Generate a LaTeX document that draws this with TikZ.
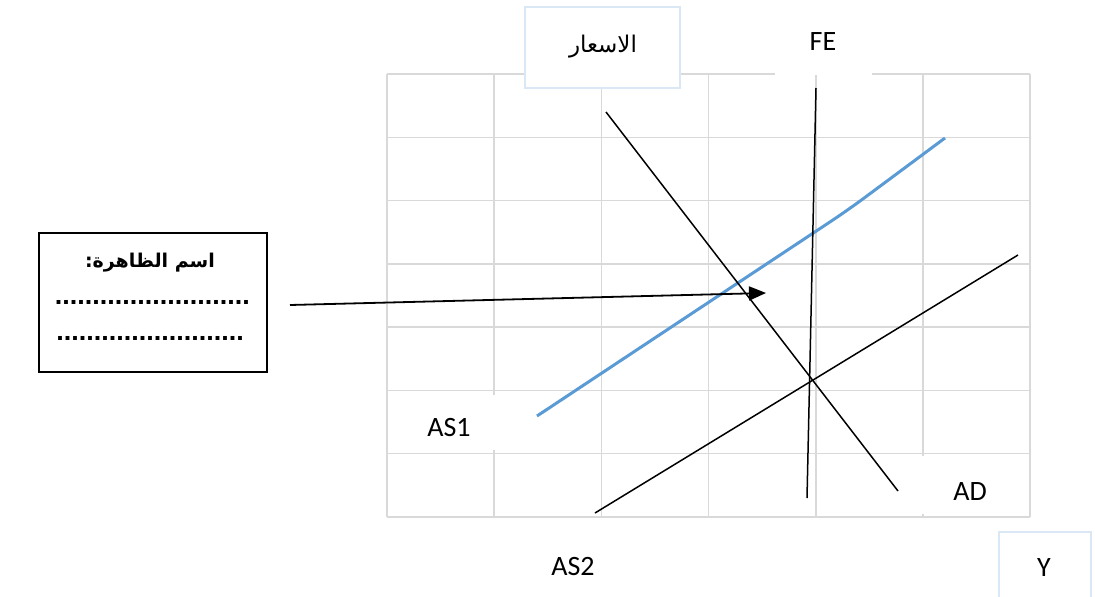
\documentclass[tikz,border=0pt]{standalone}
\usepackage{fontspec}
\setmainfont{Carlito}
\newfontfamily\arabicfont[Script=Arabic]{DejaVu Sans}
\newfontfamily\arialfont{Liberation Sans}
\TeXXeTstate=1
\usetikzlibrary{arrows.meta}
\definecolor{gridc}{RGB}{217,217,217}
\definecolor{asblue}{RGB}{91,155,213}
\definecolor{lblue}{RGB}{218,232,246}
\begin{document}
\begin{tikzpicture}[x=1pt,y=-1pt,
  gridline/.style={gridc,line width=1.5pt},
  curve/.style={black,line width=1.5pt},
  bluecurve/.style={asblue,line width=3pt},
  maskbox/.style={fill=white,draw=none,inner sep=0pt},
  bluebox/.style={fill=white,draw=lblue,line width=1.5pt,inner sep=0pt},
  lab/.style={font=\fontsize{28}{32}\selectfont},
  arlab/.style={font=\arabicfont\fontsize{23}{26}\selectfont},
  arrowline/.style={black,line width=1.8pt,-{Triangle[length=17pt,width=14pt]}},
  dots/.style={font=\arialfont\bfseries\fontsize{27}{30}\selectfont,inner sep=0pt}]
\useasboundingbox (0,0) rectangle (1095,597);
\fill[white] (0,0) rectangle (1095,597);
% grid
\foreach \x in {387,494.2,601.5,708.7,815.8,923,1030}
  \draw[gridline] (\x,74) -- (\x,517);
\foreach \y in {74,137.3,200.6,263.9,327.1,390.4,453.7,517}
  \draw[gridline] (387,\y) -- (1030,\y);
% label boxes
\node[bluebox,minimum width=155pt,minimum height=81pt] (prices) at (602.5,47.5) {};
\node[arlab] at (603,47) {\beginR الاسعار\endR};
\node[maskbox,minimum width=97pt,minimum height=65pt] (febox) at (823.5,42.5) {};
\node[lab] at (823,42) {FE};
\node[maskbox,minimum width=100pt,minimum height=55pt] (as1box) at (450,422.5) {};
\node[lab] at (449,428) {AS1};
\node[maskbox,minimum width=112pt,minimum height=58pt] (adbox) at (971,485) {};
\node[lab] at (970,492) {AD};
\node[bluebox,minimum width=92pt,minimum height=80pt,anchor=north west] (ybox) at (998,531) {};
\node[lab] at (1044,568) {Y};
\node[lab] (as2lab) at (573,567) {AS2};
% curves
\coordinate (adA) at (606,112);
\coordinate (adB) at (898,491);
\coordinate (feA) at (816,88);
\coordinate (feB) at (807,498);
\coordinate (asTwoA) at (595,513);
\coordinate (asTwoB) at (1018,255);
\coordinate (asOneA) at (537,416);
\coordinate (asOneK) at (848,210);
\coordinate (asOneB) at (945,138);
\draw[bluecurve,rounded corners=20pt] (asOneA) -- (asOneK) -- (asOneB);
\draw[curve] (adA) -- (adB);
\draw[curve] (feA) -- (feB);
\draw[curve] (asTwoA) -- (asTwoB);
% name box
\node[draw,line width=1.5pt,minimum width=228pt,minimum height=139pt,inner sep=0pt] (namebox) at (153,302.5) {};
\node[font=\arabicfont\bfseries\fontsize{19}{22}\selectfont] (title) at (150,263) {\beginR اسم الظاهرة:\endR};
\node[dots,anchor=east] (dotsA) at (250,302) {..........................};
\node[dots,anchor=east] (dotsB) at (244,338) {.........................};
\coordinate (arrowstart) at (290,305);
\coordinate (arrowend) at (766,293);
\draw[arrowline] (arrowstart) -- (arrowend);
\end{tikzpicture}
\end{document}
